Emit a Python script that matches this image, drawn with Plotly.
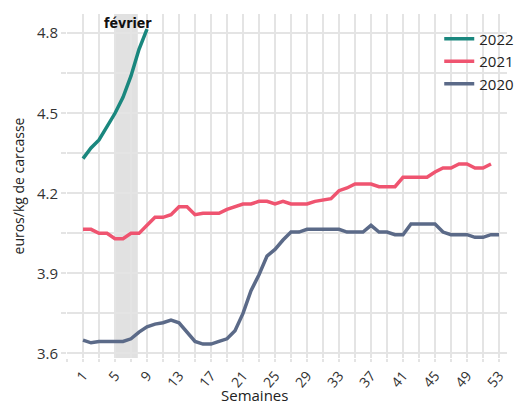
import plotly.graph_objects as go

# semaines
weeks_2020 = list(range(1, 54))
weeks_2021 = list(range(1, 53))
weeks_2022 = list(range(1, 10))

# prix en euros/kg de carcasse
prix_2022 = [4.33, 4.37, 4.40, 4.45, 4.50, 4.56, 4.64, 4.74, 4.815]
prix_2021 = [4.065, 4.065, 4.05, 4.05, 4.03, 4.03, 4.05, 4.05, 4.08, 4.11,
             4.11, 4.12, 4.15, 4.15, 4.12, 4.125, 4.125, 4.125, 4.14, 4.15,
             4.16, 4.16, 4.17, 4.17, 4.16, 4.17, 4.16, 4.16, 4.16, 4.17,
             4.175, 4.18, 4.21, 4.22, 4.235, 4.235, 4.235, 4.225, 4.225, 4.225,
             4.26, 4.26, 4.26, 4.26, 4.28, 4.295, 4.295, 4.31, 4.31, 4.295,
             4.295, 4.31]
prix_2020 = [3.65, 3.64, 3.645, 3.645, 3.645, 3.645, 3.655, 3.68, 3.70, 3.71,
             3.715, 3.725, 3.715, 3.68, 3.645, 3.635, 3.635, 3.645, 3.655, 3.685,
             3.75, 3.835, 3.895, 3.965, 3.99, 4.025, 4.055, 4.055, 4.065, 4.065,
             4.065, 4.065, 4.065, 4.055, 4.055, 4.055, 4.08, 4.055, 4.055, 4.045,
             4.045, 4.085, 4.085, 4.085, 4.085, 4.055, 4.045, 4.045, 4.045, 4.035,
             4.035, 4.045, 4.045]

series = [
    ("2022", weeks_2022, prix_2022, "#1a877e"),
    ("2021", weeks_2021, prix_2021, "#ef5470"),
    ("2020", weeks_2020, prix_2020, "#5b6a88"),
]

fig = go.Figure()

for name, x, y, color in series:
    fig.add_trace(go.Scatter(
        x=x, y=y, name=name, mode="lines",
        line=dict(color=color, width=3.5),
    ))

# février
fig.add_shape(type="rect", xref="x", yref="paper", x0=5.05, x1=7.85, y0=0, y1=1,
              fillcolor="#e1e1e1", line=dict(width=0), layer="between")
fig.add_annotation(x=6.6, y=1.0, xref="x", yref="paper", yanchor="top", yshift=1,
                   text="<b>février</b>", showarrow=False,
                   font=dict(family="Liberation Sans Narrow, DejaVu Sans Condensed", size=14, color="#111"))

fig.add_annotation(x=0.425, y=0, xref="paper", yref="paper", yanchor="top", yshift=-25,
                   text="Semaines", showarrow=False,
                   font=dict(family="Open Sans", size=15, color="#222"))

grid = "#e4e4e4"
fig.update_layout(
    width=527, height=401,
    plot_bgcolor="white", paper_bgcolor="white",
    margin=dict(l=67, r=8, t=14, b=43),
    font=dict(family="Open Sans", size=14, color="#333"),
    showlegend=True,
    legend=dict(x=0.846, y=0.975, xanchor="left", yanchor="top",
                bgcolor="rgba(0,0,0,0)", itemwidth=30,
                font=dict(size=15, color="#222"), tracegroupgap=0),
)
fig.update_xaxes(
    range=[-1, 54], tick0=1, dtick=4, tickangle=-50, automargin=False,
    showgrid=True, gridcolor=grid, gridwidth=2, zeroline=False,
    ticks="outside", ticklen=3, tickcolor=grid, tickwidth=2,
    tickfont=dict(size=14, color="#333"),
    minor=dict(tick0=1, dtick=2, showgrid=True, gridcolor=grid, gridwidth=2,
               ticks="outside", ticklen=3, tickcolor=grid, tickwidth=2),
)
fig.update_yaxes(
    range=[3.583, 4.872], tick0=3.6, dtick=0.3, tickformat=".1f", automargin=False,
    showgrid=True, gridcolor=grid, gridwidth=2, zeroline=False,
    ticks="outside", ticklen=5, tickcolor=grid, tickwidth=2,
    tickfont=dict(size=15, color="#333"),
    title=dict(text="euros/kg de carcasse", font=dict(size=14, color="#222"), standoff=9),
    minor=dict(tick0=3.6, dtick=0.15, showgrid=True, gridcolor=grid, gridwidth=2,
               ticks="outside", ticklen=5, tickcolor=grid, tickwidth=2),
)

# the page has a default 8px body margin; drop it so the figure fills the window
fig.write_html("out.html", config={"displayModeBar": False},
               post_script="document.body.style.margin='0';")
